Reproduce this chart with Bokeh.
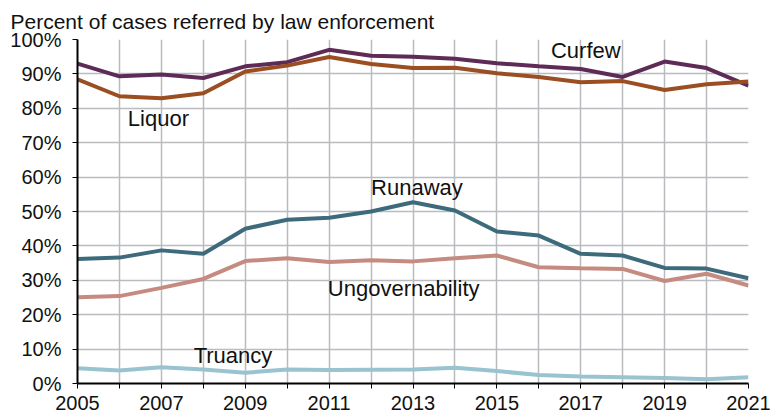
from bokeh.plotting import figure
from bokeh.models import ColumnDataSource, FixedTicker, Range1d, Title
from bokeh.core.properties import value
from bokeh.embed import file_html
from bokeh.resources import INLINE

years = list(range(2005, 2022))
curfew = [93.0, 89.3, 89.8, 88.8, 92.2, 93.4, 97.0, 95.3, 95.0, 94.4, 93.1, 92.2, 91.4, 89.1, 93.6, 91.7, 86.6]
liquor = [88.4, 83.5, 82.9, 84.4, 90.7, 92.4, 94.9, 92.9, 91.7, 91.8, 90.2, 89.1, 87.6, 87.9, 85.3, 87.0, 87.8]
runaway = [36.2, 36.6, 38.7, 37.7, 45.0, 47.6, 48.2, 50.0, 52.7, 50.3, 44.2, 43.0, 37.7, 37.2, 33.6, 33.4, 30.6]
ungovernability = [25.1, 25.4, 27.8, 30.4, 35.6, 36.4, 35.3, 35.8, 35.5, 36.4, 37.2, 33.8, 33.5, 33.3, 29.8, 31.9, 28.5]
truancy = [4.4, 3.8, 4.7, 4.1, 3.1, 4.1, 3.9, 4.0, 4.1, 4.6, 3.6, 2.5, 2.0, 1.8, 1.6, 1.2, 1.8]

series_names = ["Curfew", "Liquor", "Runaway", "Ungovernability", "Truancy"]
series_values = [curfew, liquor, runaway, ungovernability, truancy]
series_colors = ["#5e2a56", "#9b4e22", "#3d6b7b", "#c58b80", "#98c3cf"]

label_names = ["Curfew", "Liquor", "Runaway", "Ungovernability", "Truancy"]
label_x = [2016.29, 2006.2, 2012.0, 2010.97, 2007.77]
label_y = [96.8, 77.0, 57.0, 27.6, 8.1]

y_ticks = list(range(0, 101, 10))
y_tick_labels = {t: f"{t}%" for t in y_ticks}
x_tick_labels = {y: (str(y) if (y - 2005) % 2 == 0 else "") for y in years}

FONT = "Liberation Sans"

p = figure(width=771, height=419, output_backend="svg", toolbar_location=None,
           x_range=Range1d(2005, 2021), y_range=Range1d(0, 100),
           min_border_left=77, min_border_right=23, min_border_bottom=36, min_border_top=39)
p.outline_line_color = None
p.background_fill_color = "white"

p.title = Title(text="Percent of cases referred by law enforcement", align="left", offset=-67,
                text_font=FONT, text_font_size="21px", text_font_style="normal",
                text_color="#111111", standoff=14)

for name, vals, col in zip(series_names, series_values, series_colors):
    src = ColumnDataSource(dict(x=years, y=vals))
    p.line("x", "y", source=src, line_color=col, line_width=4)

lsrc = ColumnDataSource(dict(x=label_x, y=label_y, t=label_names))
p.text("x", "y", text="t", source=lsrc, text_font=value(FONT), text_font_size="22px",
       text_baseline="middle", text_align="left", text_color="#111111")

p.xaxis.ticker = FixedTicker(ticks=years)
p.xaxis.major_label_overrides = x_tick_labels
p.yaxis.ticker = FixedTicker(ticks=y_ticks)
p.yaxis.major_label_overrides = y_tick_labels

for ax in (p.xaxis, p.yaxis):
    ax.axis_line_color = "black"
    ax.axis_line_width = 2
    ax.major_tick_line_color = "black"
    ax.major_tick_line_width = 1
    ax.major_tick_out = 5
    ax.major_tick_in = 0
    ax.minor_tick_line_color = None
    ax.major_label_text_font = FONT
    ax.major_label_text_font_size = "20px"
    ax.major_label_text_color = "#111111"
p.xaxis.major_label_standoff = 7
p.yaxis.major_label_standoff = 11

p.grid.grid_line_color = "#b9bbbe"
p.grid.grid_line_width = 1.5

open("out.html", "w").write(file_html(p, INLINE))
